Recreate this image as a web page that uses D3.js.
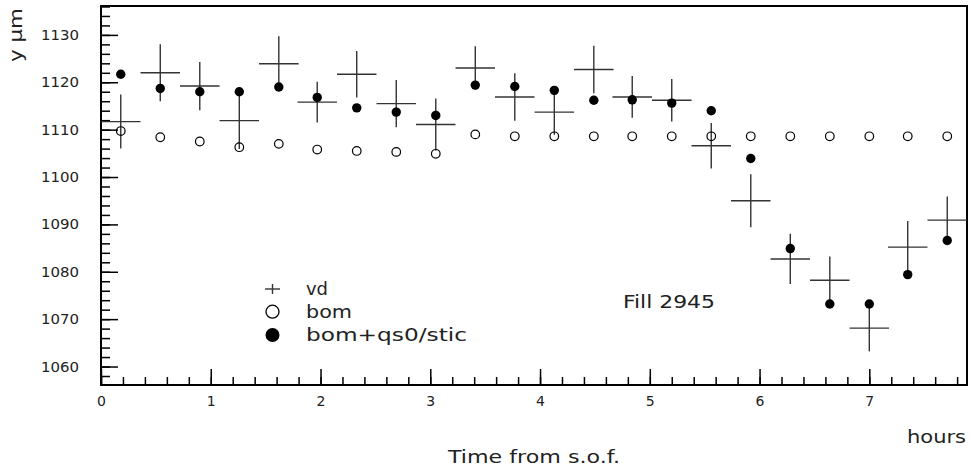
<!DOCTYPE html>
<html>
<head>
<meta charset="utf-8">
<script src="https://cdn.jsdelivr.net/npm/d3@7"></script>
<style>
  html, body { margin: 0; padding: 0; background: #fff; }
  svg text { font-family: "DejaVu Sans", "Liberation Sans", sans-serif; fill: #222; }
</style>
</head>
<body>
<div id="chart"></div>
<script>
// hours from start of fill (bin centres)
const times = [0.18, 0.54, 0.90, 1.26, 1.62, 1.97, 2.33, 2.69, 3.05, 3.41, 3.77,
               4.13, 4.49, 4.84, 5.20, 5.56, 5.92, 6.28, 6.64, 7.00, 7.35, 7.71];
const binHalf = 0.18;

// vd measurement with error
const vd = [1111.7, 1122.0, 1119.2, 1111.9, 1123.9, 1115.8, 1121.7, 1115.5, 1111.1, 1123.0, 1116.9,
            1113.7, 1122.7, 1116.9, 1116.2, 1106.6, 1095.0, 1082.7, 1078.2, 1068.1, 1085.2, 1090.9];
const vdErr = [5.7, 6.0, 5.1, 6.0, 5.8, 4.3, 4.9, 5.0, 5.5, 4.6, 5.0,
               4.8, 5.0, 4.4, 4.5, 4.8, 5.6, 5.3, 5.0, 4.9, 5.5, 5.0];

// bom
const bom = [1109.7, 1108.4, 1107.5, 1106.3, 1107.0, 1105.8, 1105.5, 1105.3, 1104.9, 1109.0, 1108.6,
             1108.6, 1108.6, 1108.6, 1108.6, 1108.6, 1108.6, 1108.6, 1108.6, 1108.6, 1108.6, 1108.6];

// bom+qs0/stic
const bomQs = [1121.7, 1118.7, 1118.0, 1118.0, 1119.0, 1116.8, 1114.6, 1113.7, 1113.0, 1119.4, 1119.1,
               1118.3, 1116.2, 1116.3, 1115.6, 1114.0, 1103.9, 1084.9, 1073.2, 1073.2, 1079.4, 1086.6];

const xTicks = [0, 1, 2, 3, 4, 5, 6, 7];
const yTicks = [1060, 1070, 1080, 1090, 1100, 1110, 1120, 1130];
const legendLabels = ["vd", "bom", "bom+qs0/stic"];

const W = 970, H = 471;
const margin = { top: 6, right: 3, bottom: 86, left: 101 };
const width = W - margin.left - margin.right;
const height = H - margin.top - margin.bottom;

const stretch = (sel, len) => sel.attr("textLength", len).attr("lengthAdjust", "spacingAndGlyphs");

const root = d3.select("#chart").append("svg")
    .attr("width", W)
    .attr("height", H);

const svg = root.append("g")
    .attr("transform", `translate(${margin.left},${margin.top})`);

const x = d3.scaleLinear().domain([0, 7.89]).range([0, width]);
const y = d3.scaleLinear().domain([1056.1, 1136.1]).range([height, 0]);

// minor ticks
svg.append("g")
    .call(d3.axisLeft(y).tickValues(d3.range(1058, 1136.5, 2)).tickSize(-9).tickFormat(""));
svg.append("g")
    .attr("transform", `translate(0,${height})`)
    .call(d3.axisBottom(x).tickValues(d3.range(0, 7.85, 0.2)).tickSize(-8).tickFormat(""));

// major ticks + labels
const yAxis = svg.append("g")
    .call(d3.axisLeft(y).tickValues(yTicks).tickSize(-17).tickPadding(22).tickFormat(d3.format("d")));
yAxis.selectAll("text")
    .style("font-size", "14px")
    .call(stretch, 38);

const xAxis = svg.append("g")
    .attr("transform", `translate(0,${height})`)
    .call(d3.axisBottom(x).tickValues(xTicks).tickSize(-16).tickPadding(11).tickFormat(d3.format("d")));
xAxis.selectAll("text").style("font-size", "14px");

svg.selectAll(".domain").remove();
svg.selectAll(".tick line").attr("stroke", "#000").attr("stroke-width", 1.5);
svg.selectAll(".tick text").attr("fill", "#222").style("font-family", "DejaVu Sans");

// frame
svg.append("rect")
    .attr("width", width)
    .attr("height", height)
    .attr("fill", "none")
    .attr("stroke", "#000")
    .attr("stroke-width", 2);

const data = times.map((t, i) => ({ t, vd: vd[i], err: vdErr[i], bom: bom[i], bomQs: bomQs[i] }));

const plot = svg.append("g");

// vd crosses
const cross = plot.selectAll(".vd").data(data).enter().append("g").attr("class", "vd");
cross.append("line")
    .attr("x1", d => x(Math.max(0, d.t - binHalf)))
    .attr("x2", d => x(Math.min(7.89, d.t + binHalf)))
    .attr("y1", d => y(d.vd))
    .attr("y2", d => y(d.vd));
cross.append("line")
    .attr("x1", d => x(d.t))
    .attr("x2", d => x(d.t))
    .attr("y1", d => y(d.vd + d.err))
    .attr("y2", d => y(d.vd - d.err));
cross.selectAll("line").attr("stroke", "#333").attr("stroke-width", 1.4);

// bom open circles
plot.selectAll(".bom").data(data).enter().append("circle")
    .attr("class", "bom")
    .attr("cx", d => x(d.t))
    .attr("cy", d => y(d.bom))
    .attr("r", 4.3)
    .attr("fill", "none")
    .attr("stroke", "#000")
    .attr("stroke-width", 1.2);

// bom+qs0/stic filled circles
plot.selectAll(".bomqs").data(data).enter().append("circle")
    .attr("class", "bomqs")
    .attr("cx", d => x(d.t))
    .attr("cy", d => y(d.bomQs))
    .attr("r", 4.7)
    .attr("fill", "#000");

// axis titles
root.append("text")
    .attr("transform", "translate(21.5,8) rotate(-90)")
    .attr("text-anchor", "end")
    .style("font-size", "17px")
    .text("y \u03bcm")
    .call(stretch, 54);

root.append("text")
    .attr("x", 907).attr("y", 443)
    .style("font-size", "18px")
    .text("hours")
    .call(stretch, 59);

root.append("text")
    .attr("x", 448).attr("y", 463)
    .style("font-size", "18px")
    .text("Time from s.o.f.")
    .call(stretch, 172);

root.append("text")
    .attr("x", 623).attr("y", 308)
    .style("font-size", "18px")
    .text("Fill 2945")
    .call(stretch, 92);

// legend
const legendY = [289, 311.7, 335];
const legendW = [22, 46, 161];
const leg = root.append("g");
leg.append("line")
    .attr("x1", 265).attr("x2", 280)
    .attr("y1", legendY[0]).attr("y2", legendY[0])
    .attr("stroke", "#333").attr("stroke-width", 1.4);
leg.append("line")
    .attr("x1", 272.5).attr("x2", 272.5)
    .attr("y1", legendY[0] - 5).attr("y2", legendY[0] + 5)
    .attr("stroke", "#333").attr("stroke-width", 1.4);
leg.append("circle")
    .attr("cx", 272.5).attr("cy", legendY[1]).attr("r", 6.5)
    .attr("fill", "none").attr("stroke", "#000").attr("stroke-width", 1.3);
leg.append("circle")
    .attr("cx", 272.5).attr("cy", legendY[2]).attr("r", 7)
    .attr("fill", "#000");
leg.selectAll("text").data(legendLabels).enter().append("text")
    .attr("x", 306)
    .attr("y", (d, i) => legendY[i] + 6)
    .style("font-size", "18px")
    .text(d => d)
    .each(function(d, i) { d3.select(this).call(stretch, legendW[i]); });
</script>
</body>
</html>
